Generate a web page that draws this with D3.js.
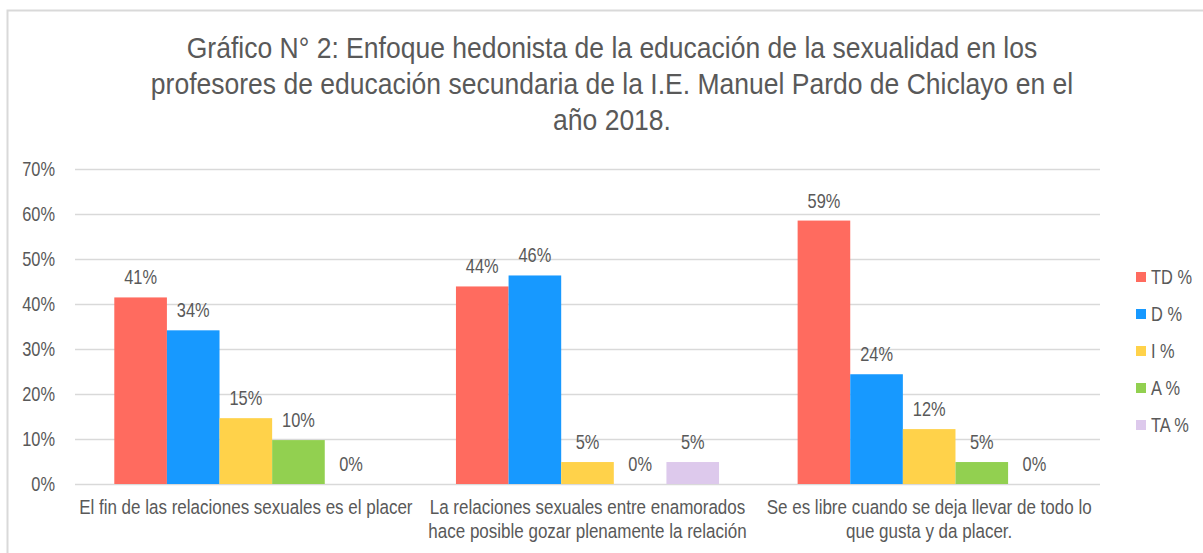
<!DOCTYPE html>
<html>
<head>
<meta charset="utf-8">
<script src="https://cdn.jsdelivr.net/npm/d3@7"></script>
<style>
  body { margin: 0; background: #fff; }
  text { font-family: "Liberation Sans", Arial, sans-serif; fill: #595959; }
</style>
</head>
<body>
<svg id="chart"></svg>
<script>
// data (percent of 41 teachers)
const categories = [
  "El fin de las relaciones sexuales es el placer",
  "La relaciones sexuales entre enamorados hace posible gozar plenamente la relación",
  "Se es libre cuando se deja llevar de todo lo que gusta y da placer."
];
const series = ["TD %", "D %", "I %", "A %", "TA %"];
const tdValues = [41.46, 43.90, 58.54];
const dValues  = [34.15, 46.34, 24.39];
const iValues  = [14.63, 4.88, 12.20];
const aValues  = [9.76, 0, 4.88];
const taValues = [0, 4.88, 0];
const yTicks = [0, 10, 20, 30, 40, 50, 60, 70];
const titleLines = [
  "Gráfico N° 2: Enfoque hedonista de la educación de la sexualidad en los",
  "profesores de educación secundaria de la I.E. Manuel Pardo de Chiclayo  en el",
  "año 2018."
];

const seriesValues = [tdValues, dValues, iValues, aValues, taValues];
const colors = ["#FF6B5F", "#1799FF", "#FFD24A", "#92D050", "#DDC9EC"];

const W = 1203, H = 553;
const margin = {top: 169, right: 103, bottom: 69, left: 75};
const width = W - margin.left - margin.right;
const height = H - margin.top - margin.bottom;
const k = 0.82; // horizontal squeeze, to get an Arial Narrow look

const svg = d3.select("#chart").attr("width", W).attr("height", H);

// squeeze text horizontally around its anchor x
function narrow(sel, kk = k) {
  sel.each(function() {
    const t = d3.select(this);
    const x = +t.attr("x") || 0;
    t.attr("x", 0).attr("transform", `translate(${x},0) scale(${kk},1)`);
    t.selectAll("tspan").attr("x", 0);
  });
}

// outer frame
svg.append("rect")
  .attr("x", 7.5).attr("y", 10.5)
  .attr("width", W + 10).attr("height", H + 10)
  .attr("fill", "none").attr("stroke", "#D9D9D9").attr("stroke-width", 2);

// title
svg.append("text")
  .attr("x", 612).attr("y", 58)
  .attr("text-anchor", "middle")
  .style("font-size", "30px")
  .call(t => t.selectAll("tspan")
    .data(titleLines)
    .join("tspan")
      .attr("dy", (d, i) => i === 0 ? 0 : 36)
      .text(d => d))
  .call(narrow, 0.884);

const chart = svg.append("g").attr("transform", `translate(${margin.left},${margin.top})`);

const x0 = d3.scaleBand().domain(categories).range([0, width]).paddingInner(0.23).paddingOuter(0.115);
const x1 = d3.scaleBand().domain(series).range([0, x0.bandwidth()]);
const y = d3.scaleLinear().domain([0, 70]).range([height, 0]);

// gridlines + y axis
const yAxis = d3.axisLeft(y).tickValues(yTicks).tickFormat(d => d + "%").tickSize(-width).tickPadding(20);
chart.append("g")
  .call(yAxis)
  .call(g => g.select(".domain").remove())
  .call(g => g.selectAll(".tick line").attr("stroke", "#D9D9D9").attr("stroke-width", 1.3))
  .call(g => g.attr("font-family", null).attr("font-size", null))
  .call(g => g.selectAll(".tick text").attr("fill", "#595959").style("font-size", "20px").call(narrow));

const rows = categories.map((c, ci) => series.map((s, si) => ({cat: c, key: s, si, v: seriesValues[si][ci]})));

const groups = chart.selectAll(".group")
  .data(rows)
  .join("g")
    .attr("class", "group")
    .attr("transform", (d, i) => `translate(${x0(categories[i])},0)`);

groups.selectAll("rect")
  .data(d => d)
  .join("rect")
    .attr("x", d => x1(d.key))
    .attr("width", x1.bandwidth())
    .attr("y", d => y(d.v))
    .attr("height", d => height - y(d.v))
    .attr("fill", d => colors[d.si]);

groups.selectAll(".lbl")
  .data(d => d)
  .join("text")
    .attr("class", "lbl")
    .attr("x", d => x1(d.key) + x1.bandwidth() / 2)
    .attr("y", d => y(d.v) - 13)
    .attr("text-anchor", "middle")
    .style("font-size", "20px")
    .text(d => Math.round(d.v) + "%")
    .call(narrow);

// category labels, wrapped
const catK = 0.872;
function wrap(textSel, maxW) {
  textSel.each(function(d) {
    const t = d3.select(this);
    const words = d.split(" ");
    let line = [];
    let lines = [];
    const probe = t.append("tspan");
    words.forEach(w => {
      line.push(w);
      probe.text(line.join(" "));
      if (probe.node().getComputedTextLength() * catK > maxW && line.length > 1) {
        line.pop();
        lines.push(line.join(" "));
        line = [w];
      }
    });
    lines.push(line.join(" "));
    probe.remove();
    t.selectAll("tspan").data(lines).join("tspan")
      .attr("dy", (l, i) => i === 0 ? 0 : 24)
      .text(l => l);
  });
}

chart.append("g").selectAll("text")
  .data(categories)
  .join("text")
    .attr("x", d => x0(d) + x0.bandwidth() / 2)
    .attr("y", height + 30)
    .attr("text-anchor", "middle")
    .style("font-size", "19.5px")
    .call(wrap, 345)
    .call(narrow, catK);

// legend
const legend = svg.append("g").attr("transform", "translate(1136,272)");
const li = legend.selectAll("g")
  .data(series)
  .join("g")
    .attr("transform", (d, i) => `translate(0,${i * 37})`);
li.append("rect").attr("width", 10).attr("height", 10).attr("fill", (d, i) => colors[i]);
li.append("text").attr("x", 15).attr("y", 12).style("font-size", "20px").text(d => d).call(narrow);
</script>
</body>
</html>
